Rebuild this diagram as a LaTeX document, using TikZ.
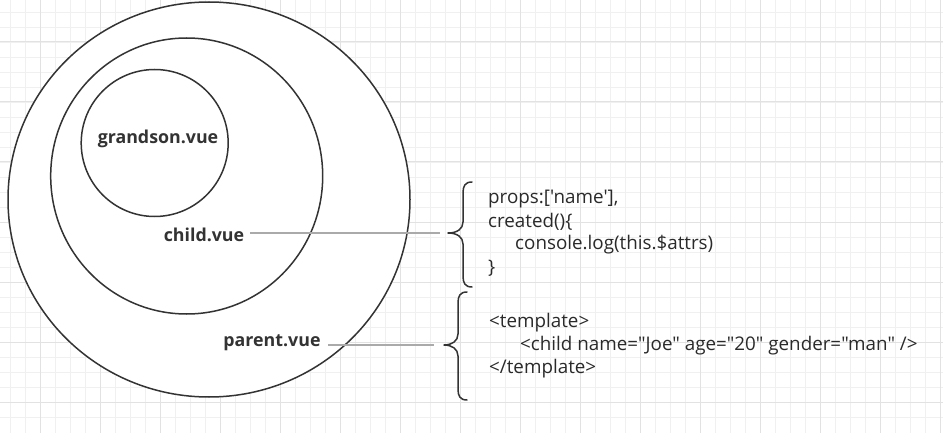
\documentclass[tikz,border=0pt]{standalone}
\usepackage{fontspec}
\setmainfont{Open Sans}[Ligatures=TeXOff]
\usetikzlibrary{shapes.geometric}
\definecolor{gridminor}{HTML}{F0F0F0}
\definecolor{gridmajor}{HTML}{E2E2E2}
\definecolor{ink}{HTML}{333333}
\definecolor{conn}{HTML}{AAAAAA}
\definecolor{codetext}{HTML}{2A2A2A}
\tikzset{
  ring/.style={draw=ink, line width=1.5pt, ellipse, inner sep=0pt},
  lbl/.style={font=\fontsize{17.8}{20}\selectfont\bfseries, text=ink, inner sep=0pt},
  code/.style={font=\fontsize{18.8}{22}\selectfont, text=codetext, anchor=west, inner sep=0pt},
  connector/.style={draw=conn, line width=1.3pt},
  bracestyle/.style={draw=ink, line width=1.5pt, line cap=round, line join=round},
}
\begin{document}
\begin{tikzpicture}[x=1pt, y=-1pt]
\useasboundingbox (0,0) rectangle (943,433);
\fill[white] (0,0) rectangle (943,433);
% grid
\foreach \x in {-5,10,...,940} \draw[gridminor, line width=0.8pt] (\x,0) -- (\x,433);
\foreach \y in {-3,12,...,430} \draw[gridminor, line width=0.8pt] (0,\y) -- (943,\y);
\foreach \x in {40,100,...,940} \draw[gridmajor, line width=1pt] (\x,0) -- (\x,433);
\foreach \y in {42,102,...,430} \draw[gridmajor, line width=1pt] (0,\y) -- (943,\y);
% rings
\node[ring, fill=white, minimum width=402pt, minimum height=395pt] (outer) at (209,199.5) {};
\node[ring, minimum width=272pt, minimum height=276pt] (mid) at (186.7,176) {};
\node[ring, minimum width=147pt, minimum height=147pt] (inner) at (154.7,143) {};
% labels
\node[lbl] (grandson) at (158,139) {grandson.vue};
\node[lbl] (child) at (204,235) {child.vue};
\node[lbl] (parent) at (272,343) {parent.vue};
% braces
\coordinate (ctip) at (448,233);
\coordinate (ptip) at (444,345);
\draw[bracestyle] (472,182) .. controls (465,182) and (463,186) .. (463,193)
  -- (463,222) .. controls (463,229) and (457,233) .. (ctip)
  .. controls (457,233) and (463,237) .. (463,244)
  -- (463,276) .. controls (463,283) and (465,287) .. (472,287);
\draw[bracestyle] (467,292) .. controls (460,292) and (458,296) .. (458,303)
  -- (458,334) .. controls (458,341) and (452,345) .. (ptip)
  .. controls (452,345) and (458,349) .. (458,356)
  -- (458,389) .. controls (458,396) and (460,400) .. (467,400);
% connectors
\draw[connector] ([xshift=6pt]child.east |- 0,233) -- ([xshift=-8pt]ctip);
\draw[connector] ([xshift=7pt]parent.east |- 0,345) -- ([xshift=-10pt]ptip);
% code
\node[code] (c1) at (488,199) {props:['name'],};
\node[code] (c2) at (488,222) {created()\{};
\node[code] (c3) at (515,245) {console.log(this.\$attrs)};
\node[code] (c4) at (488,268) {\}};
\node[code] (p1) at (489,323) {<template>};
\node[code] (p2) at (520,346) {<child name="Joe" age="20" gender="man" />};
\node[code] (p3) at (489,369) {</template>};
\end{tikzpicture}
\end{document}
